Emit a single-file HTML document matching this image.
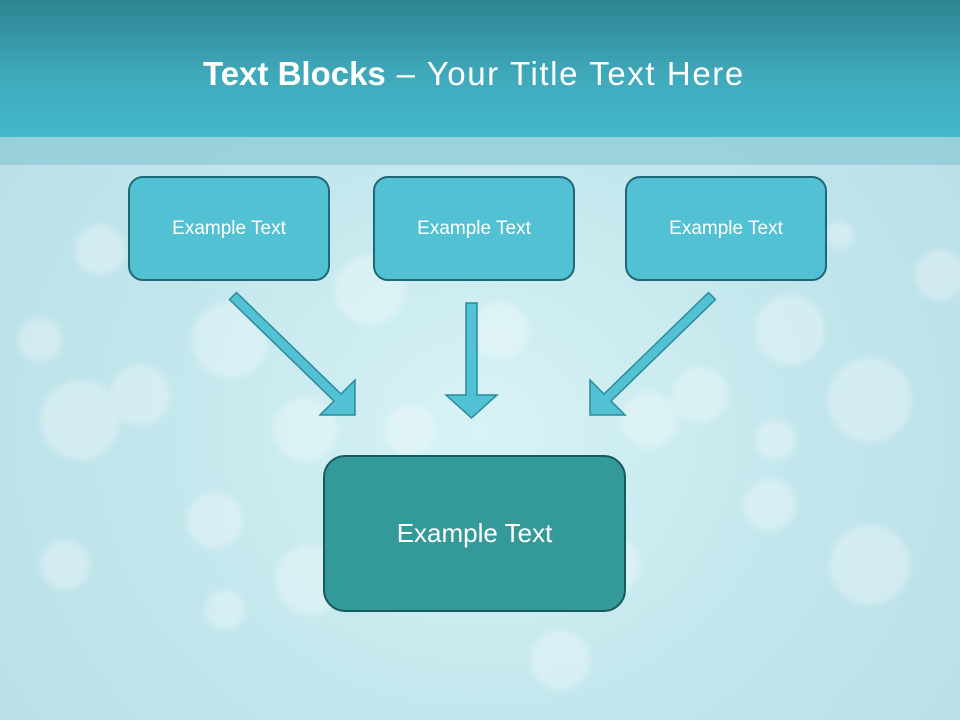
<!DOCTYPE html>
<html><head><meta charset="utf-8"><style>
body{margin:0;width:960px;height:720px;overflow:hidden;font-family:"Liberation Sans",sans-serif}
#bg{position:absolute;left:0;top:0;width:960px;height:720px;background:radial-gradient(ellipse at 50% 60%,#d8f3f6 0%,#c2e6ec 50%,#b7dde5 100%)}
.hdr{position:absolute;left:0;top:0;width:960px;height:137px;background:linear-gradient(#2d8592,#3fa9bb 55%,#43b9cc)}
.band{position:absolute;left:0;top:137px;width:960px;height:28px;background:rgba(130,196,210,0.6)}
.title{position:absolute;left:203px;top:55px;color:#fff;font-size:33px;white-space:nowrap}
.title span{letter-spacing:1.6px}
.box{position:absolute;box-sizing:border-box;border:2px solid #1e6878;background:#52c1d3;border-radius:15px;color:#fff;font-size:19px;display:flex;align-items:center;justify-content:center}
.big{background:#339a99;border-color:#175a5e;border-radius:22px;font-size:26px}
</style></head><body>
<div id="bg"></div>
<svg width="960" height="720" style="position:absolute;left:0;top:0">
<defs><filter id="b"><feGaussianBlur stdDeviation="3"/></filter></defs>
<g fill="#fff" opacity="0.3" filter="url(#b)">
<circle cx="370" cy="290" r="35"/><circle cx="230" cy="340" r="38"/><circle cx="80" cy="420" r="40"/><circle cx="140" cy="395" r="30"/>
<circle cx="305" cy="430" r="32"/><circle cx="410" cy="430" r="25"/><circle cx="500" cy="330" r="28"/><circle cx="650" cy="420" r="28"/>
<circle cx="790" cy="330" r="35"/><circle cx="870" cy="400" r="42"/><circle cx="940" cy="275" r="25"/><circle cx="870" cy="565" r="40"/>
<circle cx="770" cy="505" r="26"/><circle cx="215" cy="520" r="28"/><circle cx="65" cy="565" r="25"/><circle cx="310" cy="580" r="35"/>
<circle cx="610" cy="565" r="30"/><circle cx="100" cy="250" r="25"/><circle cx="775" cy="440" r="20"/><circle cx="840" cy="235" r="14"/>
<circle cx="560" cy="660" r="30"/><circle cx="225" cy="610" r="20"/><circle cx="700" cy="395" r="28"/><circle cx="40" cy="340" r="22"/>
</g>
</svg>
<div class="hdr"></div><div class="band"></div>
<div class="title"><b>Text Blocks</b><span> – Your Title Text Here</span></div>
<div class="box" style="left:128px;top:176px;width:202px;height:105px">Example Text</div>
<div class="box" style="left:373px;top:176px;width:202px;height:105px">Example Text</div>
<div class="box" style="left:625px;top:176px;width:202px;height:105px">Example Text</div>
<div class="box big" style="left:323px;top:455px;width:303px;height:157px">Example Text</div>
<svg width="960" height="720" style="position:absolute;left:0;top:0">
<g fill="#52c1d3" stroke="#2b8a9c" stroke-width="1.5" stroke-linejoin="miter">
<polygon points="236.5,292.5 341,394 355,380 355,415 320,415 334,401 229.5,299.5"/>
<polygon points="708.5,292.5 604,394 590,380 590,415 625,415 611,401 715.5,299.5"/>
<polygon points="466,303 477,303 477,395 497,395 471.5,418 446,395 466,395"/>
</g>
</svg>
</body></html>
